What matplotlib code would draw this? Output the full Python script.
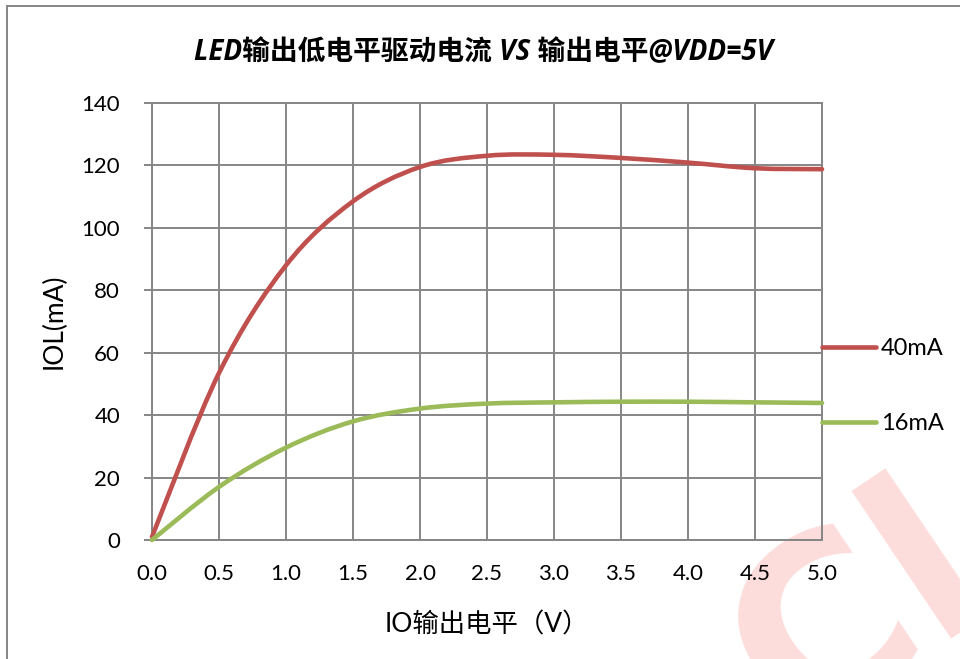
import numpy as np
import matplotlib
matplotlib.use("Agg")
import matplotlib.pyplot as pl
from matplotlib.path import Path
from matplotlib.patches import PathPatch, Rectangle
from matplotlib.lines import Line2D

# IO output voltage (V) and sink current (mA) for the two drive settings
voltage = [0.0, 0.5, 1.0, 1.5, 2.0, 2.5, 3.0, 3.5, 4.0, 4.5, 5.0]
iol_40ma = [1.0, 53.5, 88.0, 108.5, 119.5, 123.1, 123.4, 122.4, 120.9, 119.1, 118.8]
iol_16ma = [0.0, 17.0, 29.6, 38.0, 42.1, 43.7, 44.1, 44.3, 44.3, 44.1, 43.9]
series_names = ["40mA", "16mA"]
series_colors = ["#C0504D", "#9BBB59"]

title = "LED输出低电平驱动电流 VS 输出电平@VDD=5V"
xlabel = "IO输出电平（V）"
ylabel = "IOL(mA)"
xticks = np.arange(0, 5.01, 0.5)
yticks = np.arange(0, 141, 20)

cjk = ["Lato", "Noto Sans CJK SC"]
grid_color = "#868686"


def smooth_path(xs, ys):
    """Catmull-Rom style smoothed line as a cubic Bezier path."""
    pts = np.column_stack([xs, ys]).astype(float)
    n = len(pts)
    verts = [pts[0]]
    codes = [Path.MOVETO]
    for i in range(n - 1):
        p0 = pts[max(i - 1, 0)]
        p1 = pts[i]
        p2 = pts[i + 1]
        p3 = pts[min(i + 2, n - 1)]
        c1 = p1 + (p2 - p0) / 6.0
        c2 = p2 - (p3 - p1) / 6.0
        verts += [c1, c2, p2]
        codes += [Path.CURVE4] * 3
    return Path(verts, codes)


fig = pl.figure(figsize=(9.6, 6.59), dpi=100)
fig.patches.append(Rectangle((7 / 960, -0.1), 2.0, 1 - 6 / 659 + 0.1,
                             transform=fig.transFigure, fill=False,
                             edgecolor=grid_color, linewidth=1.4, zorder=-10))

# faint red logo stamp in the lower right corner
fig.text(0.825, -0.12, "Cl", rotation=34, rotation_mode="anchor",
         fontsize=168, fontweight="bold", color="#FDDCDC",
         family="DejaVu Sans", ha="left", va="baseline", zorder=-5)

ax = fig.add_axes([152 / 960, 1 - 540 / 659, 670 / 960, 437 / 659])
ax.set_facecolor("none")
ax.set_xlim(0, 5)
ax.set_ylim(0, 140)
ax.set_xticks(xticks)
ax.set_xticklabels([f"{v:.1f}" for v in xticks], family=cjk)
ax.set_yticks(yticks)
ax.set_yticklabels([str(v) for v in yticks], family=cjk)
ax.grid(True, color=grid_color, linewidth=1.4)
ax.set_axisbelow(True)
for side in ax.spines.values():
    side.set_color(grid_color)
    side.set_linewidth(1.4)
ax.tick_params(axis="x", length=0, pad=17, labelsize=16)
ax.tick_params(axis="y", length=6, width=1.4, color=grid_color, pad=17,
               labelsize=16)

handles = []
for ys, name, color in zip([iol_40ma, iol_16ma], series_names, series_colors):
    ax.add_patch(PathPatch(smooth_path(voltage, ys), fill=False,
                           edgecolor=color, linewidth=3.3, capstyle="round",
                           clip_on=False, zorder=3))
    handles.append(Line2D([], [], color=color, linewidth=3.3,
                          solid_capstyle="round", label=name))

ax.legend(handles=handles, loc="center left",
          bbox_to_anchor=(1.0, (540 - 386) / 437), frameon=False,
          borderpad=0, borderaxespad=0, handlelength=2.3,
          handletextpad=0.2, labelspacing=2.28,
          prop={"family": cjk, "size": 17})

ax.set_xlabel(xlabel, family=cjk, fontsize=19, labelpad=21)
ax.set_ylabel(ylabel, family=cjk, fontsize=19, labelpad=11)
fig.text(483 / 960, 1 - 53 / 659, title, ha="center", va="center",
         family=["Open Sans", "Noto Sans CJK SC"], fontweight="bold",
         fontstyle="italic", fontsize=20)

fig.savefig("out.png", dpi=100)
